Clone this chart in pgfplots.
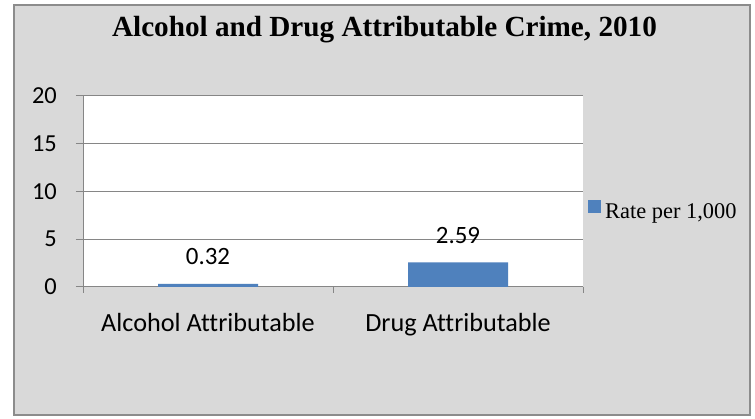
\documentclass[border=0pt]{standalone}
\usepackage{pgfplots}
\pgfplotsset{compat=1.18}
\usepackage{fontspec}
\setmainfont{Carlito}[Ligatures=NoCommon]
\newfontfamily\tnr{Liberation Serif}
\definecolor{barblue}{HTML}{4F81BD}
\definecolor{bgc}{HTML}{D9D9D9}
\definecolor{gridc}{HTML}{868686}
\definecolor{bordc}{HTML}{8C8C8C}
\begin{document}
\begin{tikzpicture}
\useasboundingbox (0,0) rectangle (755bp,419bp);
\fill[white] (0,0) rectangle (755bp,419bp);
\draw[bordc, fill=bgc, line width=1.5bp] (14bp,4bp) rectangle (750bp,414bp);
\node[font=\tnr\bfseries\fontsize{29.3}{32}\selectfont, anchor=base, inner sep=0pt] at (384.5bp,382bp) {Alcohol and Drug Attributable Crime, 2010};
\begin{axis}[
  at={(83bp,132bp)}, anchor=south west,
  scale only axis, width=500bp, height=191bp,
  xmin=-0.5, xmax=1.5, ymin=0, ymax=20,
  axis x line*=bottom, axis y line*=left,
  axis line style={draw=gridc, line width=1bp, -},
  axis background/.style={fill=white},
  ymajorgrids, grid style={draw=gridc, line width=1bp},
  ytick={0,5,10,15,20},
  xtick={0,1}, xticklabels={Alcohol Attributable, Drug Attributable},
  minor xtick={-0.5,0.5,1.5},
  major x tick style={draw=none},
  tick align=outside, tick style={draw=gridc, line width=1bp},
  major tick length=7bp, minor tick length=6bp,
  /pgf/number format/assume math mode=true,
  yticklabel style={font=\fontsize{24.5}{28}\selectfont, anchor=east, inner sep=0pt, xshift=-19bp},
  xticklabel style={font=\fontsize{26.3}{30}\selectfont, anchor=base, inner sep=0pt, yshift=-38bp},
  ybar, bar width=100bp,
  nodes near coords,
  every node near coord/.append style={font=\fontsize{25}{30}\selectfont, anchor=base, inner sep=0pt, yshift=19bp},
  legend style={at={(1.01,0.403)}, anchor=west, draw=none, fill=none,
    font=\tnr\fontsize{22.5}{26}\selectfont, inner sep=0pt, column sep=4bp,
    nodes={inner sep=0pt}},
  legend image code/.code={\fill[barblue] (0bp,-0.5bp) rectangle (13bp,12.5bp);},
]
\addplot[fill=barblue, draw=none] coordinates {(0,0.32) (1,2.59)};
\addlegendentry{Rate per 1,000}
\end{axis}
\end{tikzpicture}
\end{document}
